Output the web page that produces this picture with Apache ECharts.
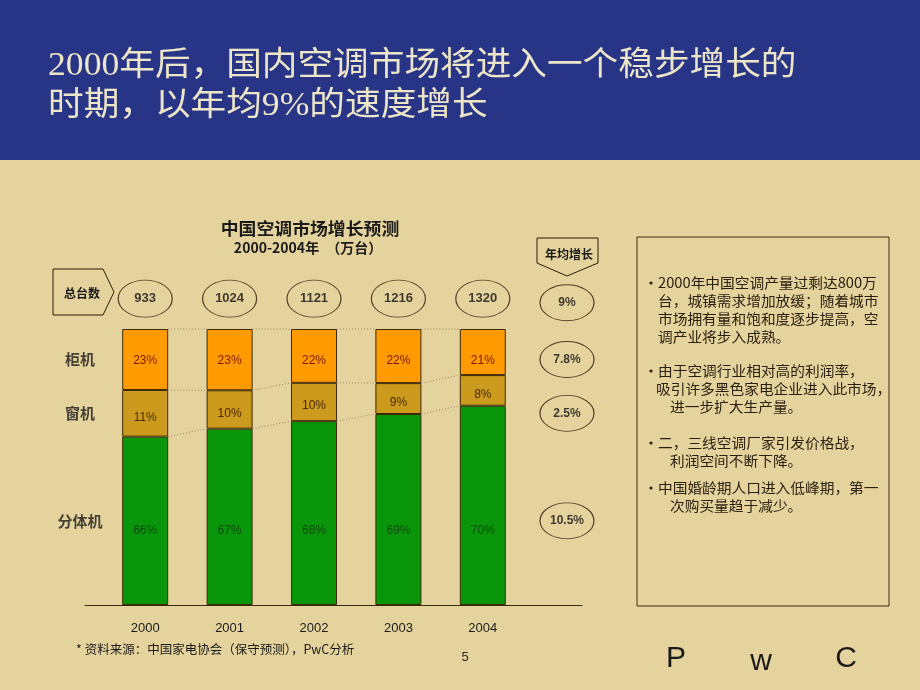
<!DOCTYPE html>
<html><head><meta charset="utf-8">
<script src="https://cdn.jsdelivr.net/npm/echarts@6/dist/echarts.min.js"></script>
<style>html,body{margin:0;padding:0;background:#E5D39E}#c{width:920px;height:690px}</style>
</head><body><div id="c"></div>
<script>
// ---- data ----
const years = ['2000', '2001', '2002', '2003', '2004'];
const totals = [933, 1024, 1121, 1216, 1320];
// segment heights as drawn in the picture (share of bar height, %)
const splitShare   = [61.0, 63.9, 66.6, 69.2, 72.2];
const windowShare  = [16.9, 13.9, 13.9, 11.2, 11.1];
const cabinetShare = [22.1, 22.2, 19.5, 19.6, 16.7];
// printed labels
const splitLabels   = ['66%', '67%', '68%', '69%', '70%'];
const windowLabels  = ['11%', '10%', '10%', '9%', '8%'];
const cabinetLabels = ['23%', '23%', '22%', '22%', '21%'];
const rowNames = ['柜机', '窗机', '分体机'];
const growthLabels = ['9%', '7.8%', '2.5%', '10.5%'];
const bullets = [
  [['2000年中国空调产量过剩达800万', 0], ['台，城镇需求增加放缓；随着城市', 0], ['市场拥有量和饱和度逐步提高，空', 0], ['调产业将步入成熟。', 0]],
  [['由于空调行业相对高的利润率，', 0], ['吸引许多黑色家电企业进入此市场，', -1], ['进一步扩大生产量。', 1]],
  [['二，三线空调厂家引发价格战，', 0], ['利润空间不断下降。', 1]],
  [['中国婚龄期人口进入低峰期，第一', 0], ['次购买量趋于减少。', 1]]
];

// ---- layout helpers ----
const TOTAL_ROW = 111;
const rowMid = [
  splitShare[0] + windowShare[0] + cabinetShare[0] / 2,
  splitShare[0] + windowShare[0] / 2,
  splitShare[0] / 2
];
const CJK = '"Noto Sans CJK SC", sans-serif';
const LAT = '"Liberation Sans", Arial, sans-serif';
const ELLIPSE = 'path://M0,18 A27,18 0 1,1 54,18 A27,18 0 1,1 0,18 Z';
const BAR_W = 46;

const chart = echarts.init(document.getElementById('c'));

const bulletGraphics = [];
const bulletY = [283, 371, 443, 488];
bullets.forEach((lines, b) => {
  bulletGraphics.push({
    type: 'circle', shape: { cx: 651, cy: bulletY[b], r: 1.6 }, style: { fill: '#2a2010' }
  });
  lines.forEach((ln, k) => {
    const x = ln[1] === 1 ? 670 : (ln[1] === -1 ? 656 : 658);
    bulletGraphics.push({
      type: 'text', x: x, y: bulletY[b] + k * 18, scaleX: 1.05, originX: 0,
      style: { text: ln[0], font: '14px ' + CJK, fill: '#2a2010', verticalAlign: 'middle' }
    });
  });
});

const option = {
  backgroundColor: '#E5D39E',
  animation: false,
  grid: [
    { left: 103, width: 422, top: 329, height: 276 },
    { left: 85, width: 497, top: 329, height: 276 },
    { left: 540, width: 54, top: 329, height: 276 },
    { left: 50, width: 60, top: 329, height: 276 }
  ],
  xAxis: [
    { type: 'category', gridIndex: 0, data: years, axisLine: { show: false }, axisTick: { show: false },
      axisLabel: { color: '#1a1a1a', fontSize: 13, fontFamily: LAT, margin: 17 } },
    { type: 'value', gridIndex: 1, min: 0, max: 1, axisLine: { show: true, lineStyle: { color: '#3a2a10', width: 1 } },
      axisTick: { show: false }, axisLabel: { show: false }, splitLine: { show: false } },
    { type: 'category', gridIndex: 2, data: ['g'], show: false },
    { type: 'category', gridIndex: 3, data: ['r'], show: false }
  ],
  yAxis: [
    { type: 'value', gridIndex: 0, min: 0, max: 100, show: false },
    { type: 'value', gridIndex: 1, min: 0, max: 100, show: false },
    { type: 'value', gridIndex: 2, min: 0, max: 100, show: false },
    { type: 'value', gridIndex: 3, min: 0, max: 100, show: false }
  ],
  series: [
    {
      type: 'bar', stack: 's', barWidth: BAR_W, data: splitShare, z: 2,
      itemStyle: { color: '#0A960A', borderColor: '#3b2a0a', borderWidth: 1 },
      label: { show: true, position: 'insideBottom', distance: 68, formatter: p => splitLabels[p.dataIndex],
        color: '#0d4a0d', fontSize: 12, fontFamily: LAT }
    },
    {
      type: 'bar', stack: 's', barWidth: BAR_W, data: windowShare, z: 2,
      itemStyle: { color: '#CC9A1C', borderColor: '#3b2a0a', borderWidth: 1 },
      label: { show: true, position: 'inside', offset: [0, 4], formatter: p => windowLabels[p.dataIndex],
        color: '#4a2a05', fontSize: 12, fontFamily: LAT }
    },
    {
      type: 'bar', stack: 's', barWidth: BAR_W, data: cabinetShare, z: 2,
      itemStyle: { color: '#FF9A00', borderColor: '#3b2a0a', borderWidth: 1 },
      label: { show: true, position: 'insideTop', distance: 26, formatter: p => cabinetLabels[p.dataIndex],
        color: '#7a1a00', fontSize: 12, fontFamily: LAT }
    },
    {
      type: 'custom', xAxisIndex: 0, yAxisIndex: 0, z: 1, silent: true,
      data: years.map((_, i) => [i, 0]),
      renderItem: function (params, api) {
        const i = params.dataIndex;
        if (i >= years.length - 1) return null;
        const lv = j => [splitShare[j], splitShare[j] + windowShare[j], 100];
        const a = lv(i), b = lv(i + 1);
        const children = a.map((v, k) => {
          const p1 = api.coord([i, v]);
          const p2 = api.coord([i + 1, b[k]]);
          return {
            type: 'line',
            shape: { x1: p1[0] + BAR_W / 2, y1: p1[1], x2: p2[0] - BAR_W / 2, y2: p2[1] },
            style: { stroke: '#9a8a6a', lineWidth: 1, lineDash: [1, 2] }
          };
        });
        return { type: 'group', children: children };
      }
    },
    {
      type: 'scatter', xAxisIndex: 0, yAxisIndex: 0, clip: false, silent: true,
      data: years.map((_, i) => [i, TOTAL_ROW]),
      symbol: ELLIPSE, symbolSize: [54, 37],
      itemStyle: { color: 'rgba(0,0,0,0)', borderColor: '#2a1a05', borderWidth: 1 },
      label: { show: true, position: 'inside', formatter: p => String(totals[p.dataIndex]),
        color: '#111', fontSize: 13, fontWeight: 'bold', fontFamily: LAT }
    },
    {
      type: 'scatter', xAxisIndex: 2, yAxisIndex: 2, clip: false, silent: true,
      data: [[0, TOTAL_ROW - 1.5], [0, rowMid[0]], [0, rowMid[1]], [0, rowMid[2]]],
      symbol: ELLIPSE, symbolSize: [54, 36],
      itemStyle: { color: 'rgba(0,0,0,0)', borderColor: '#2a1a05', borderWidth: 1 },
      label: { show: true, position: 'inside', formatter: p => growthLabels[p.dataIndex],
        color: '#111', fontSize: 12, fontWeight: 'bold', fontFamily: LAT }
    },
    {
      type: 'scatter', xAxisIndex: 3, yAxisIndex: 3, clip: false, silent: true,
      data: rowMid.map(v => [0, v]), symbolSize: 0,
      label: { show: true, position: 'inside', formatter: p => rowNames[p.dataIndex],
        color: '#1a1a1a', fontSize: 15, fontWeight: 'bold', fontFamily: CJK }
    }
  ],
  graphic: [
    { type: 'rect', shape: { x: 0, y: 0, width: 920, height: 160 }, style: { fill: '#283587' }, z: -1 },
    { type: 'text', x: 48, y: 66, scaleX: 1.08, originX: 0, style: { text: '2000年后，国内空调市场将进入一个稳步增长的',
      font: '33px "Liberation Serif", "Noto Sans CJK SC", serif', fill: '#EDE5C8', verticalAlign: 'middle' } },
    { type: 'text', x: 48, y: 106, scaleX: 1.08, originX: 0, style: { text: '时期，以年均9%的速度增长',
      font: '33px "Liberation Serif", "Noto Sans CJK SC", serif', fill: '#EDE5C8', verticalAlign: 'middle' } },
    { type: 'text', x: 310, y: 229, scaleX: 1.05, originX: 0, style: { text: '中国空调市场增长预测', font: 'bold 17px ' + CJK,
      fill: '#1a1a1a', align: 'center', verticalAlign: 'middle' } },
    { type: 'text', x: 308, y: 248, style: { text: '2000-2004年　（万台）', font: 'bold 14px ' + CJK,
      fill: '#1a1a1a', align: 'center', verticalAlign: 'middle' } },
    { type: 'polygon', shape: { points: [[53, 269], [103, 269], [114, 292], [103, 315], [53, 315]] },
      style: { fill: 'none', stroke: '#2a1a05', lineWidth: 1 } },
    { type: 'text', x: 82, y: 293, style: { text: '总台数', font: 'bold 12px ' + CJK, fill: '#1a1a1a',
      align: 'center', verticalAlign: 'middle' } },
    { type: 'polygon', shape: { points: [[537, 238], [598, 238], [598, 263], [567, 276], [537, 263]] },
      style: { fill: 'none', stroke: '#2a1a05', lineWidth: 1 } },
    { type: 'text', x: 569, y: 254, style: { text: '年均增长', font: 'bold 12px ' + CJK, fill: '#1a1a1a',
      align: 'center', verticalAlign: 'middle' } },
    { type: 'rect', shape: { x: 637, y: 237, width: 252, height: 369 },
      style: { fill: 'none', stroke: '#3a2a10', lineWidth: 1 } },
    ...bulletGraphics,
    { type: 'text', x: 76, y: 649, style: { text: '* 资料来源：中国家电协会（保守预测），PwC分析', font: '12.5px ' + CJK,
      fill: '#1a1a1a', verticalAlign: 'middle' } },
    { type: 'text', x: 465, y: 657, style: { text: '5', font: '13px ' + LAT, fill: '#2a2a2a', align: 'center', verticalAlign: 'middle' } },
    { type: 'text', x: 676, y: 659, style: { text: 'P', font: '30px ' + LAT, fill: '#1a1a1a', align: 'center', verticalAlign: 'middle' } },
    { type: 'text', x: 761, y: 662, style: { text: 'w', font: '30px ' + LAT, fill: '#1a1a1a', align: 'center', verticalAlign: 'middle' } },
    { type: 'text', x: 846, y: 659, style: { text: 'C', font: '30px ' + LAT, fill: '#1a1a1a', align: 'center', verticalAlign: 'middle' } }
  ]
};
chart.setOption(option);
</script></body></html>
